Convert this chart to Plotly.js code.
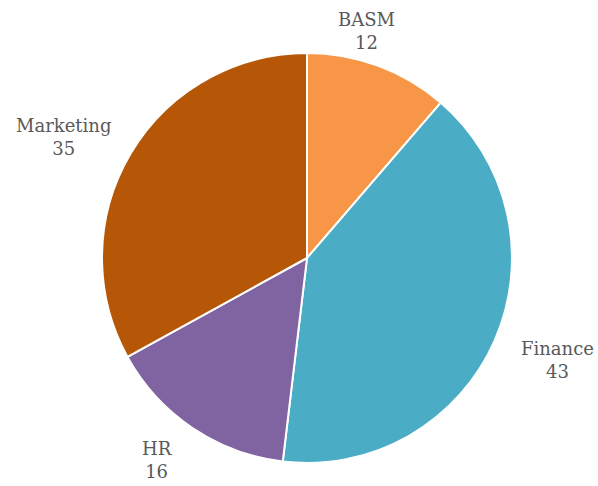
<!DOCTYPE html>
<html>
<head>
<meta charset="utf-8">
<script src="https://cdn.plot.ly/plotly-3.0.1.min.js"></script>
<style>html,body{margin:0;padding:0;background:#fff;}#chart{width:598px;height:486px;}</style>
</head>
<body>
<div id="chart"></div>
<script>
var categories = ["BASM", "Finance", "HR", "Marketing"];
var values = [12, 43, 16, 35];
var colors = ["#F79646", "#4BACC6", "#8064A2", "#B65708"];

// layout: pie geometry in pixels, label placement (radial distance, angle tweak in degrees)
var W = 598, H = 486;
var cx = 307, cy = 258, R = 205;
var labelDist = [235, 270, 251, 272];
var labelTweak = [-5.6, -1.6, 2.6, -4.2];

var trace = {
  type: "pie",
  labels: categories,
  values: values,
  sort: false,
  direction: "clockwise",
  rotation: 0,
  marker: {colors: colors, line: {color: "#FFFFFF", width: 2}},
  textinfo: "none",
  showlegend: false,
  hoverinfo: "label+value",
  domain: {x: [(cx - R) / W, (cx + R) / W], y: [1 - (cy + R) / H, 1 - (cy - R) / H]}
};

var total = values.reduce(function (a, b) { return a + b; }, 0);
var annotations = [];
var cum = 0;
for (var i = 0; i < values.length; i++) {
  var mid = (cum + values[i] / 2) / total * 360 + labelTweak[i];
  cum += values[i];
  var a = mid * Math.PI / 180;
  var px = cx + labelDist[i] * Math.sin(a);
  var py = cy - labelDist[i] * Math.cos(a);
  annotations.push({
    xref: "paper", yref: "paper",
    x: px / W, y: 1 - py / H,
    xanchor: "center", yanchor: "middle",
    text: categories[i] + "<br>" + values[i],
    showarrow: false,
    align: "center",
    font: {family: "DejaVu Serif", size: 18, color: "#595959"}
  });
}

var layout = {
  width: W, height: H,
  margin: {l: 0, r: 0, t: 0, b: 0},
  paper_bgcolor: "#FFFFFF",
  showlegend: false,
  annotations: annotations
};

Plotly.newPlot("chart", [trace], layout, {displayModeBar: false, staticPlot: true});
</script>
</body>
</html>
